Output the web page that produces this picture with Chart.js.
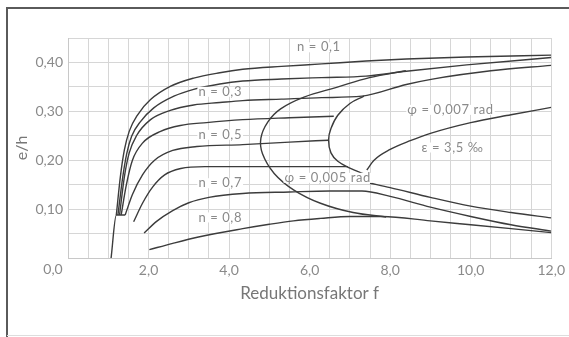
<!DOCTYPE html>
<html>
<head>
<meta charset="utf-8">
<script src="https://cdn.jsdelivr.net/npm/chart.js@4.4.0/dist/chart.umd.min.js"></script>
<style>
  html, body { margin: 0; padding: 0; background: #fff; }
  #wrap { width: 569px; height: 337px; position: relative; }
</style>
</head>
<body>
<div id="wrap"><canvas id="chart"></canvas></div>
<script>
// e/h over Reduktionsfaktor f
const stem = [[1.07, 0.0], [1.2, 0.088], [1.42, 0.088]];

const n01 = [[1.2, 0.088], [1.3, 0.166], [1.4, 0.221], [1.52, 0.259], [1.73, 0.293], [2.05, 0.324], [2.54, 0.351], [3.12, 0.368], [3.77, 0.379], [4.34, 0.386], [5.3, 0.392], [6.3, 0.397], [7.4, 0.403], [8.4, 0.407], [9.9, 0.411], [12, 0.415]];
const n02 = [[1.24, 0.088], [1.36, 0.166], [1.46, 0.214], [1.58, 0.249], [1.8, 0.279], [2.13, 0.307], [2.63, 0.331], [3.12, 0.345], [3.77, 0.356], [4.34, 0.362], [5.3, 0.366], [6.3, 0.369], [7.4, 0.372], [8.4, 0.382], [9.9, 0.395], [12, 0.41]];
const n03 = [[1.28, 0.088], [1.4, 0.166], [1.52, 0.215], [1.7, 0.25], [2.05, 0.283], [2.54, 0.302], [3.12, 0.313], [3.77, 0.318], [4.34, 0.322], [5.3, 0.325], [6.3, 0.328], [7.3, 0.331], [8.4, 0.355], [9.05, 0.366], [10.5, 0.383], [12, 0.394]];
const n04 = [[1.32, 0.088], [1.45, 0.15], [1.6, 0.2], [1.85, 0.235], [2.3, 0.259], [2.79, 0.271], [3.44, 0.277], [4.34, 0.283], [5.5, 0.287], [6.6, 0.29]];
const n05 = [[1.42, 0.088], [1.6, 0.13], [1.85, 0.17], [2.15, 0.2], [2.6, 0.22], [3.2, 0.228], [4.34, 0.232], [5.5, 0.237], [6.47, 0.241]];
const n06 = [[1.63, 0.074], [1.85, 0.112], [2.1, 0.145], [2.4, 0.17], [2.8, 0.183], [3.4, 0.187], [4.34, 0.187], [5.5, 0.187], [6.95, 0.187]];
const n07 = [[1.89, 0.051], [2.2, 0.075], [2.6, 0.097], [3.0, 0.113], [3.5, 0.124], [4.34, 0.132], [5.5, 0.135], [6.5, 0.137], [7.3, 0.137], [8.0, 0.126], [9.0, 0.104], [10.0, 0.085], [11.0, 0.068], [12, 0.055]];
const n08 = [[2.02, 0.017], [2.6, 0.03], [3.24, 0.043], [4.34, 0.06], [5.0, 0.069], [5.6, 0.076], [6.27, 0.081], [7.0, 0.085], [7.8, 0.085], [9.0, 0.076], [10.0, 0.068], [11.0, 0.06], [12, 0.052]];

// limit curves
const phi005 = [[8.39, 0.383], [7.49, 0.369], [6.67, 0.349], [5.86, 0.329], [5.28, 0.305], [4.96, 0.278], [4.79, 0.245], [4.83, 0.213], [5.12, 0.173], [5.61, 0.139], [6.27, 0.112], [7.08, 0.093], [7.9, 0.084]];
const phi007 = [[7.35, 0.331], [7.0, 0.316], [6.7, 0.292], [6.53, 0.265], [6.47, 0.242], [6.53, 0.215], [6.7, 0.198], [7.0, 0.184], [7.35, 0.172]];
const epsUpper = [[7.42, 0.18], [7.6, 0.2], [8.0, 0.222], [8.5, 0.24], [9.0, 0.255], [10.0, 0.277], [11.0, 0.293], [12, 0.308]];
const epsLower = [[7.5, 0.153], [8.0, 0.144], [9.0, 0.124], [10.0, 0.106], [11.0, 0.093], [12, 0.082]];

// curve captions: text, x, y (data units)
const captions = [
  ["n = 0,1", 6.23, 0.431],
  ["n = 0,3", 3.78, 0.340],
  ["n = 0,5", 3.78, 0.252],
  ["n = 0,7", 3.78, 0.153],
  ["n = 0,8", 3.78, 0.083],
  ["φ = 0,005 rad", 6.45, 0.164],
  ["φ = 0,007 rad", 9.5, 0.303],
  ["ε = 3,5 ‰", 9.55, 0.226]
];

const xTickLabels = ["2,0", "4,0", "6,0", "8,0", "10,0", "12,0"];
const yTickLabels = ["0,10", "0,20", "0,30", "0,40"];

const ink = "#3c3c3c";
const grey = "#8a8a8a";
const fontFam = "Lato, 'Open Sans', sans-serif";

const toPts = (arr) => arr.map(([x, y]) => ({ x, y }));
const nCurve = (arr) => ({
  data: toPts(arr), showLine: true, borderColor: ink, borderWidth: 1.4,
  pointRadius: 0, cubicInterpolationMode: "monotone", fill: false
});
const loop = (arr) => ({
  data: toPts(arr), showLine: true, borderColor: ink, borderWidth: 1.4,
  pointRadius: 0, tension: 0.4, fill: false
});

const decor = {
  id: "decor",
  beforeDraw(chart) {
    const c = chart.ctx;
    c.save();
    c.fillStyle = "#fff";
    c.fillRect(0, 0, chart.width, chart.height);
    // scanned page frame
    c.strokeStyle = "#5a5a5a";
    c.lineWidth = 2;
    c.beginPath();
    c.moveTo(7, 337); c.lineTo(7, 8); c.lineTo(569, 8);
    c.stroke();
    c.strokeStyle = "#dddddd";
    c.lineWidth = 1;
    c.beginPath();
    c.moveTo(7, 335.5); c.lineTo(569, 335.5);
    c.stroke();
    c.restore();
  },
  afterDatasetsDraw(chart) {
    const c = chart.ctx;
    const xs = chart.scales.x, ys = chart.scales.y;
    c.save();
    c.textAlign = "center";
    c.textBaseline = "middle";
    c.letterSpacing = "0.6px";
    captions.forEach(([t, x, y]) => {
      c.font = "13px " + fontFam;
      const px = xs.getPixelForValue(x), py = ys.getPixelForValue(y);
      const w = c.measureText(t).width;
      c.fillStyle = "#fff";
      c.fillRect(px - w / 2 - 1, py - 5, w + 2, 10);
      c.fillStyle = grey;
      c.fillText(t, px, py);
    });
    c.letterSpacing = "0px";
    // shared origin label
    c.font = "14px " + fontFam;
    c.fillText("0,0", xs.getPixelForValue(0) - 15, ys.getPixelForValue(0) + 11);
    c.restore();
  }
};

new Chart(document.getElementById("chart"), {
  type: "scatter",
  data: {
    datasets: [
      nCurve(stem), nCurve(n01), nCurve(n02), nCurve(n03), nCurve(n04),
      nCurve(n05), nCurve(n06), nCurve(n07), nCurve(n08),
      loop(phi005), loop(phi007), nCurve(epsUpper), nCurve(epsLower)
    ]
  },
  options: {
    responsive: true,
    maintainAspectRatio: false,
    animation: false,
    devicePixelRatio: 1,
    layout: { padding: { left: 8, top: 38, right: 12, bottom: 0 } },
    plugins: { legend: { display: false }, tooltip: { enabled: false } },
    scales: {
      x: {
        type: "linear", min: 0, max: 12,
        afterFit: (s) => { s.height = 79; },
        grid: { color: "#d6d6d6", drawTicks: false },
        border: { color: "#c8c8c8" },
        ticks: {
          stepSize: 0.5, autoSkip: false, maxRotation: 0, padding: 4,
          color: grey, font: { family: fontFam, size: 14 },
          callback: (v) => {
            const i = Math.round(v / 2) - 1;
            return (Math.abs(v % 2) < 1e-6 && i >= 0) ? xTickLabels[i] : "";
          }
        },
        title: {
          display: true, text: "Reduktionsfaktor f", color: "#777",
          font: { family: fontFam, size: 17 }, padding: { top: 0, bottom: 33 }
        }
      },
      y: {
        type: "linear", min: 0, max: 0.45,
        afterFit: (s) => { s.width = 60; },
        grid: { color: "#d6d6d6", drawTicks: false },
        border: { color: "#c8c8c8" },
        ticks: {
          stepSize: 0.05, autoSkip: false, padding: 5,
          color: grey, font: { family: fontFam, size: 14 },
          callback: (v) => {
            const k = Math.round(v * 20);
            return (k > 0 && k % 2 === 0) ? yTickLabels[k / 2 - 1] : "";
          }
        },
        title: {
          display: true, text: "e/h", color: "#777",
          font: { family: fontFam, size: 16 }, padding: { top: 4, bottom: 0 }
        }
      }
    }
  },
  plugins: [decor]
});
</script>
</body>
</html>
